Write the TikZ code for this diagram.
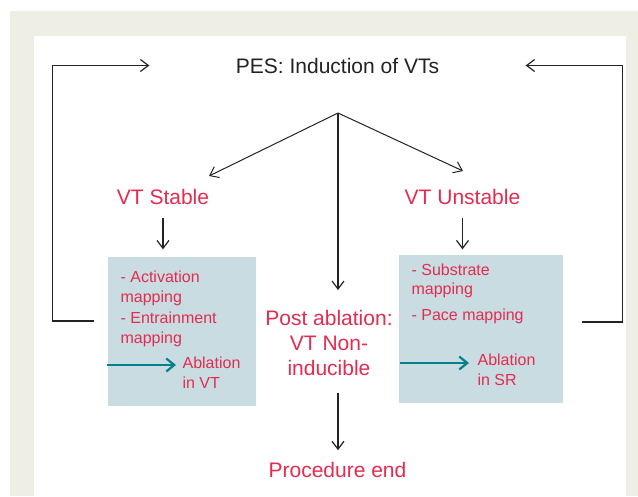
\documentclass[tikz,border=0pt]{standalone}
\usepackage{fontspec}
\setmainfont{Liberation Sans}
\usetikzlibrary{arrows.meta,positioning}
\definecolor{pesred}{RGB}{228,44,80}
\definecolor{boxblue}{RGB}{200,220,226}
\definecolor{paper}{RGB}{239,238,228}
\definecolor{ablteal}{RGB}{8,128,140}
\definecolor{ink}{RGB}{35,35,35}

\begin{document}
\begin{tikzpicture}[x=1pt,y=-1pt,->,>={Straight Barb[length=8pt,width=12pt]},line width=1.2pt,color=ink,
  head/.style={text=ink,font=\fontsize{21}{25}\selectfont,inner sep=0pt},
  lbl/.style={text=pesred,font=\fontsize{21}{25}\selectfont,inner sep=0pt},
  box/.style={fill=boxblue,inner sep=0pt},
  boxtxt/.style={text=pesred,font=\fontsize{16}{19.5}\selectfont,align=left,anchor=north west,inner sep=0pt},
  ablarrow/.style={draw=ablteal,line width=2.2pt,-{Straight Barb[length=8pt,width=13pt]}}]

  % frame
  \useasboundingbox (0,0) rectangle (638,496);
  \fill[white] (0,0) rectangle (638,496);
  \fill[paper] (10,11) rectangle (638,496);
  \fill[white] (34,36) rectangle (626,496);

  \node[head,anchor=base] (pes) at (337.5,73) {PES: Induction of VTs};
  \coordinate (fork) at (338,113);

  \node[lbl,anchor=base] (stable) at (163,204) {VT Stable};
  \node[lbl,anchor=base] (unstable) at (462.5,204) {VT Unstable};

  \node[box,minimum width=148pt,minimum height=149pt] (lbox) at (182,331.5) {};
  \node[box,minimum width=164pt,minimum height=148pt] (rbox) at (481,329) {};

  \node[lbl,align=center,anchor=north] (post) at (329,310) {Post ablation:\\VT Non-\\inducible};
  \node[lbl,anchor=base] (end) at (337.5,477) {Procedure end};

  % box texts
  \node[boxtxt] (act) at (120,270.5) {- Activation\\mapping};
  \node[boxtxt] (ent) at (120,311.5) {- Entrainment\\mapping};
  \node[boxtxt] (ablvt) at (182,356.4) {Ablation\\in VT};
  \node[boxtxt] (sub) at (411,263.3) {- Substrate\\mapping};
  \node[boxtxt] (pace) at (411,308.5) {- Pace mapping};
  \node[boxtxt] (ablsr) at (477,353.4) {Ablation\\in SR};

  \coordinate (stabletip) at (209,176);
  \coordinate (unstabletip) at (463,171);
  \coordinate (ltip) at (176,365);
  \coordinate (rtip) at (469,363);

  \draw[line width=1pt] (fork) -- (stabletip);
  \draw[line width=1pt] (fork) -- (unstabletip);
  \draw[shorten >=20pt] (fork) -- (fork |- post.north);
  \draw[shorten <=13pt,shorten >=7pt] (stable.south) -- (stable.south |- lbox.north);
  \draw[shorten <=13pt,shorten >=5pt] (unstable.south) -- (unstable.south |- rbox.north);
  \draw[shorten <=16pt,shorten >=11pt] (fork |- post.south) -- (fork |- end.north);

  \draw[ablarrow] (lbox.west |- ltip) -- (ltip);
  \draw[ablarrow] ([xshift=2pt]rbox.west |- rtip) -- (rtip);

  % loops back to induction
  \draw ([shift={(-13,-10.5)}]lbox.west) -- ++(-42,0) |- ([xshift=-86pt]pes.west);
  \draw ([shift={(18,-7)}]rbox.east) -- ++(41,0) |- ([xshift=86pt]pes.east);

\end{tikzpicture}
\end{document}
